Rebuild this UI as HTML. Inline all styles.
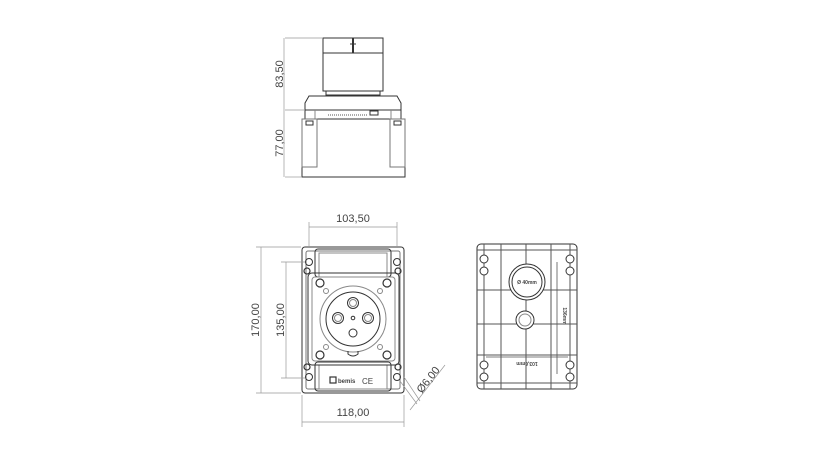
<!DOCTYPE html>
<html><head><meta charset="utf-8"><style>
html,body{margin:0;padding:0;background:#fff;}
svg{display:block;}
text{font-family:"Liberation Sans",sans-serif;fill:#444;}
</style></head><body>
<svg width="825" height="464" viewBox="0 0 825 464" xmlns="http://www.w3.org/2000/svg">
<g fill="none" stroke="#333" stroke-width="1">
<!-- TOP VIEW -->
<rect x="323" y="38" width="60" height="15"/>
<rect x="323" y="53" width="60" height="38"/>
<line x1="353" y1="38" x2="353" y2="53" stroke-width="2"/>
<line x1="350" y1="44" x2="356" y2="44"/>
<rect x="326" y="91" width="54" height="4"/>
<path d="M309 96 H397 L401 103 V110 H305 V103 Z"/>
<rect x="305" y="110" width="96" height="9"/>
<line x1="315" y1="110" x2="315" y2="119" stroke="#888"/>
<line x1="391" y1="110" x2="391" y2="119" stroke="#888"/>
<line x1="328" y1="115" x2="368" y2="115" stroke="#555" stroke-dasharray="1,1"/>
<rect x="370" y="111" width="8" height="4"/>
<rect x="302" y="119" width="103" height="58"/>
<rect x="302" y="119" width="15" height="48" stroke="#777"/>
<rect x="390" y="119" width="15" height="48" stroke="#777"/>
<rect x="306" y="121" width="7" height="4"/>
<rect x="394" y="121" width="7" height="4"/>
<g stroke="#999" stroke-width="0.7">
<line x1="284" y1="38" x2="284" y2="177"/>
<line x1="285" y1="38" x2="322" y2="38"/>
<line x1="285" y1="110" x2="304" y2="110"/>
<line x1="285" y1="177" x2="301" y2="177"/>
</g>
<!-- FRONT VIEW -->
<rect x="302" y="247" width="102" height="146" rx="3"/>
<rect x="306" y="251" width="94" height="138" rx="2" stroke="#777"/>
<rect x="315" y="249" width="76" height="28" rx="3"/>
<rect x="319" y="253" width="68" height="24" stroke="#888"/>
<rect x="315" y="362" width="76" height="29" rx="3"/>
<rect x="319" y="365" width="68" height="24" stroke="#888"/>
<rect x="308" y="273" width="91" height="92" rx="4"/>
<rect x="312" y="277" width="83" height="84" rx="3" stroke="#888"/>
<circle cx="353" cy="319" r="33" stroke="#888"/>
<circle cx="353" cy="319" r="27"/>
<path d="M348 351 L348 354 Q353 358 358 354 L358 351" />
<circle cx="353" cy="303" r="5.5"/><circle cx="353" cy="303" r="3.5" stroke="#888"/>
<circle cx="338" cy="318" r="5.5"/><circle cx="338" cy="318" r="3.5" stroke="#888"/>
<circle cx="368" cy="318" r="5.5"/><circle cx="368" cy="318" r="3.5" stroke="#888"/>
<circle cx="353" cy="333" r="4"/>
<circle cx="353" cy="318" r="1.8"/>
<g stroke-width="1.2">
<circle cx="320" cy="283" r="4"/><circle cx="387" cy="283" r="4"/>
<circle cx="320" cy="355" r="4"/><circle cx="387" cy="355" r="4"/>
<circle cx="307" cy="271" r="3"/><circle cx="398" cy="271" r="3"/>
<circle cx="307" cy="367" r="3"/><circle cx="398" cy="367" r="3"/>
</g>
<circle cx="309" cy="262" r="3.5"/><circle cx="397" cy="262" r="3.5"/>
<circle cx="309" cy="377" r="3.5"/><circle cx="397" cy="377" r="3.5"/>
<circle cx="326" cy="291" r="2.5" stroke="#888"/><circle cx="380" cy="291" r="2.5" stroke="#888"/>
<circle cx="326" cy="347" r="2.5" stroke="#888"/><circle cx="380" cy="347" r="2.5" stroke="#888"/>
<rect x="330" y="377" width="6" height="6" stroke-width="1.2"/>
<g stroke="#999" stroke-width="0.7">
<line x1="309" y1="227" x2="397" y2="227"/>
<line x1="309" y1="222" x2="309" y2="248"/>
<line x1="397" y1="222" x2="397" y2="248"/>
<line x1="261" y1="247" x2="261" y2="393"/>
<line x1="256" y1="247" x2="301" y2="247"/>
<line x1="256" y1="393" x2="301" y2="393"/>
<line x1="286" y1="262" x2="286" y2="378"/>
<line x1="281" y1="262" x2="305" y2="262"/>
<line x1="281" y1="378" x2="305" y2="378"/>
<line x1="302" y1="422" x2="404" y2="422"/>
<line x1="302" y1="395" x2="302" y2="427"/>
<line x1="404" y1="395" x2="404" y2="427"/>
<line x1="400" y1="381" x2="417" y2="404"/>
<line x1="404" y1="377" x2="420" y2="401"/>
<line x1="410" y1="410" x2="445" y2="365"/>
</g>
<!-- BACK VIEW -->
<rect x="477" y="244" width="100" height="145" rx="4"/>
<g stroke="#555">
<line x1="477" y1="250" x2="577" y2="250"/>
<line x1="477" y1="290" x2="577" y2="290"/>
<line x1="477" y1="324" x2="577" y2="324"/>
<line x1="477" y1="355" x2="577" y2="355"/>
<line x1="477" y1="383" x2="577" y2="383"/>
<line x1="484" y1="244" x2="484" y2="389"/>
<line x1="501" y1="244" x2="501" y2="389"/>
<line x1="526" y1="244" x2="526" y2="389"/>
<line x1="551" y1="244" x2="551" y2="389"/>
<line x1="570" y1="244" x2="570" y2="389"/>
</g>
<circle cx="527" cy="282" r="18" fill="#fff"/>
<circle cx="527" cy="282" r="15"/>
<circle cx="525" cy="320" r="9" fill="#fff"/>
<circle cx="525" cy="320" r="6" stroke="#888"/>
<g fill="#fff">
<circle cx="484" cy="259" r="4"/><circle cx="484" cy="271" r="4"/>
<circle cx="570" cy="259" r="4"/><circle cx="570" cy="271" r="4"/>
<circle cx="484" cy="365" r="4"/><circle cx="484" cy="377" r="4"/>
<circle cx="570" cy="365" r="4"/><circle cx="570" cy="377" r="4"/>
</g>
<line x1="557" y1="262" x2="557" y2="374" stroke="#555" stroke-width="0.8"/>
<line x1="486" y1="357" x2="568" y2="357" stroke="#555" stroke-width="0.8"/>
</g>
<g fill="#444" stroke="none">
<text x="0" y="0" font-size="11" transform="translate(283,74) rotate(-90)" text-anchor="middle">83,50</text>
<text x="0" y="0" font-size="11" transform="translate(283,143) rotate(-90)" text-anchor="middle">77,00</text>
<text x="353" y="222" font-size="11" text-anchor="middle">103,50</text>
<text x="0" y="0" font-size="11" transform="translate(259,320) rotate(-90)" text-anchor="middle">170,00</text>
<text x="0" y="0" font-size="11" transform="translate(284,320) rotate(-90)" text-anchor="middle">135,00</text>
<text x="353" y="416" font-size="11" text-anchor="middle">118,00</text>
<text x="0" y="0" font-size="11" transform="translate(431,382) rotate(-52)" text-anchor="middle">Ø6,00</text>
<text x="338" y="383" font-size="6" font-weight="bold">bemis</text>
<text x="362" y="384" font-size="8">CE</text>
<text x="527" y="284" font-size="5" font-weight="bold" text-anchor="middle">Ø 40mm</text>
<text x="0" y="0" font-size="5" font-weight="bold" transform="translate(563,316) rotate(90)" text-anchor="middle">136mm</text>
<text x="0" y="0" font-size="5" font-weight="bold" transform="translate(527,362) rotate(180)" text-anchor="middle">103,6mm</text>
</g>
</svg>
</body></html>
